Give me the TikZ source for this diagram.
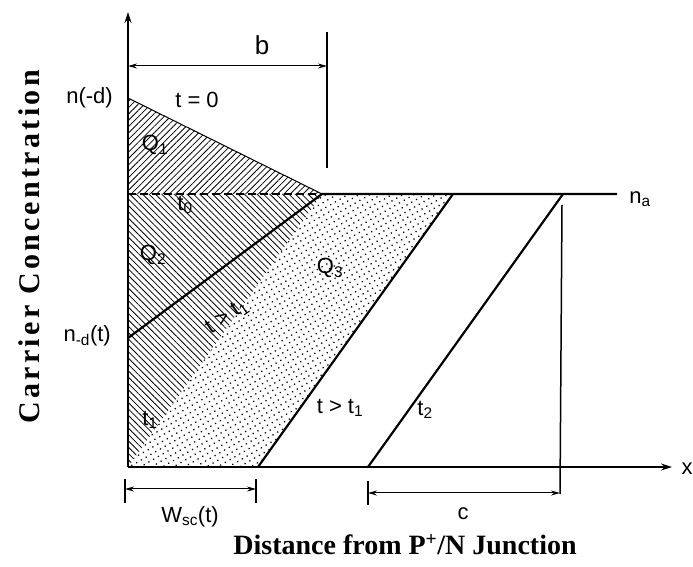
\documentclass[tikz,border=0pt]{standalone}
\usepackage{fontspec}
\setmainfont{Liberation Sans}
\newfontfamily\titlefont{Liberation Serif}
\newfontfamily\ytitlefont[LetterSpace=11]{Liberation Serif}
\usetikzlibrary{patterns.meta,arrows.meta}

\tikzset{
  lbl/.style={font=\fontsize{22}{24}\selectfont, inner sep=1pt},
  axtitle/.style={font=\titlefont\bfseries\fontsize{28}{30}\selectfont, inner sep=0pt},
  profile/.style={line width=2.2pt},
  axisline/.style={line width=1.2pt, -{Stealth[length=11pt,width=7pt]}},
  dimline/.style={line width=1pt, {Stealth[length=9pt,width=5pt]}-{Stealth[length=9pt,width=5pt]}},
  tickline/.style={line width=1.8pt},
}

\begin{document}
\begin{tikzpicture}[x=1pt,y=1pt]
\useasboundingbox (-128,-100) rectangle (565,467);

% ===== Points =====
\coordinate (O) at (0,0);
\coordinate (ytop) at (0,455);
\coordinate (xend) at (544,0);
\coordinate (nd0) at (0,369);
\coordinate (natop) at (0,273);
\coordinate (peak) at (194,273);
\coordinate (ndt) at (0,129);
\coordinate (naend) at (489,273);

% ===== Hatched and dotted regions =====
\fill[pattern={Lines[angle=45,distance=4.5pt,line width=0.8pt]}] (nd0) -- (peak) -- (natop) -- cycle;
\fill[pattern={Lines[angle=-45,distance=4.5pt,line width=0.8pt]}] (natop) -- (peak) -- (O) -- cycle;
\fill[pattern={Dots[distance=5.5pt,radius=0.9pt,angle=30]}] (O) -- (peak) -- (325,273) -- (130,0) -- cycle;

% ===== Profiles =====
\draw[line width=1pt] (nd0) -- (peak);
\draw[dashed, line width=1.6pt, dash pattern=on 8pt off 4pt] (natop) -- (peak);
\draw[profile] (ndt) -- (peak) -- (naend);
\foreach \f in {130,240} {
    \draw[profile] (\f,0) -- ++(195,273);
}

% ===== Axes =====
\draw[axisline] (O) -- (ytop);
\draw[axisline] (O) -- (xend);
\node[lbl] (xlab) at (559,-2) {x};

% ===== Dimensions =====
\draw[tickline] (199,435) -- (199,299);
\draw[dimline] (0,401) -- (199,401);
\node[lbl, font=\fontsize{26}{28}\selectfont] (blab) at (134,422) {b};

\draw[line width=1.5pt] (434,262) -- (432,-27);
\draw[tickline] (240,-14) -- (240,-38);
\draw[dimline] (240,-26) -- (432,-26);
\node[lbl] (clab) at (335,-47) {c};

\draw[tickline] (-3,-12) -- (-3,-36);
\draw[tickline] (128,-12) -- (128,-36);
\draw[dimline] (-3,-22) -- (128,-22);
\node[lbl] (wlab) at (62,-50) {W\textsubscript{sc}(t)};

% ===== Labels =====
\node[lbl, anchor=east] (nd0lab) at (-14,369) {n(-d)};
\node[lbl, anchor=east] (ndtlab) at (-16,131) {n\textsubscript{-d}(t)};
\node[lbl] (nalab) at (512,268) {n\textsubscript{a}};
\node[lbl] (t0top) at (69,367) {t = 0};
\node[lbl] (q1) at (27,322) {Q\textsubscript{1}};
\node[lbl] (t0lab) at (57,262) {t\textsubscript{0}};
\node[lbl] (q2) at (25,212) {Q\textsubscript{2}};
\node[lbl] (q3) at (202,199) {Q\textsubscript{3}};
\node[lbl, rotate=35] (tgt1a) at (99,150) {t > t\textsubscript{1}};
\node[lbl] (t1lab) at (22,47) {t\textsubscript{1}};
\node[lbl] (tgt1b) at (212,59) {t > t\textsubscript{1}};
\node[lbl] (t2lab) at (297,57) {t\textsubscript{2}};

\node[axtitle] (xtitle) at (277,-78) {Distance from P\textsuperscript{+}/N Junction};
\node[axtitle, font=\ytitlefont\bfseries\fontsize{30}{32}\selectfont, rotate=90] (ytitle) at (-99,220) {Carrier Concentration};

\end{tikzpicture}
\end{document}
